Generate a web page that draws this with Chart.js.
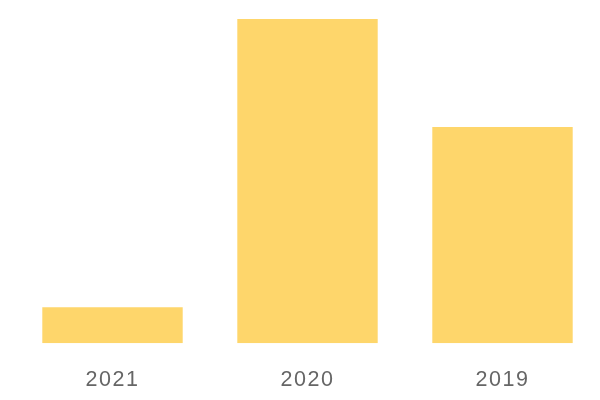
<!DOCTYPE html>
<html>
<head>
<meta charset="utf-8">
<script src="https://cdn.jsdelivr.net/npm/chart.js@4"></script>
<style>
  html, body { margin: 0; padding: 0; background: #fff; }
  #wrap { width: 600px; height: 400px; }
</style>
</head>
<body>
<div id="wrap"><canvas id="myChart"></canvas></div>
<script>
// datos
const years = ['2021', '2020', '2019'];
const values = [1, 9, 6];

const ctx = document.getElementById('myChart');

// un poco de espacio entre letras en las etiquetas
const spacing = {
  id: 'spacing',
  beforeDraw(chart) {
    chart.ctx.letterSpacing = '1.5px';
  }
};

const myChart = new Chart(ctx, {
  type: 'bar',
  data: {
    labels: years,
    datasets: [{
      data: values,
      backgroundColor: '#fed66b',
      borderWidth: 0
    }]
  },
  options: {
    responsive: true,
    maintainAspectRatio: false,
    animation: false,
    layout: { padding: { top: 19, left: 15, right: 0, bottom: -17 } },
    plugins: {
      legend: { display: false },
      tooltip: { enabled: false }
    },
    scales: {
      x: {
        grid: { display: false, drawTicks: false },
        border: { display: false },
        ticks: {
          color: '#666',
          padding: 24,
          font: { family: 'Liberation Sans', size: 21.5 }
        }
      },
      y: {
        display: false,
        min: 0,
        max: 9
      }
    }
  },
  plugins: [spacing]
});
</script>
</body>
</html>
